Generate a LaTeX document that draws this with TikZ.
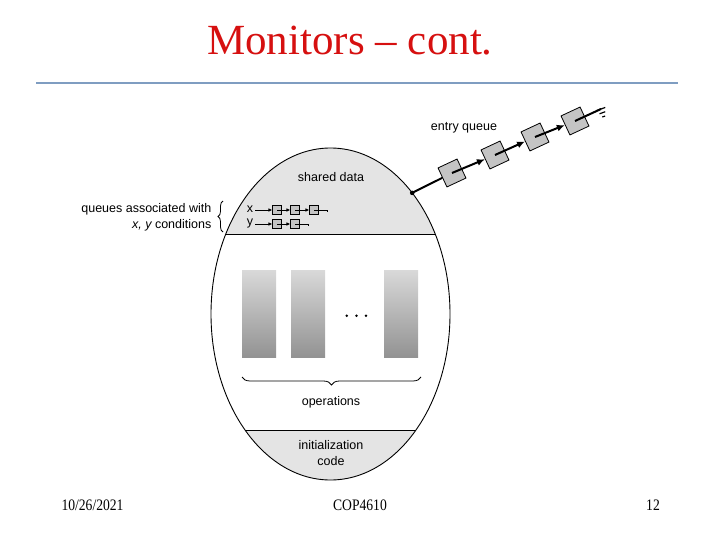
\documentclass[tikz,border=0pt]{standalone}
\usepackage{fontspec}
\setmainfont{Liberation Serif}
\newfontfamily\arial{Liberation Sans}
\usetikzlibrary{shapes.geometric,arrows.meta,decorations.pathreplacing}
\definecolor{titlered}{RGB}{214,16,16}
\definecolor{rulebl}{RGB}{127,157,193}
\definecolor{regiongray}{RGB}{228,228,228}
\definecolor{boxgray}{RGB}{196,196,196}
\tikzset{
  lbl/.style={font=\arial\fontsize{12.5}{15}\selectfont, inner sep=0pt},
  foot/.style={font=\fontsize{16}{18}\selectfont, inner sep=0pt, anchor=base, xscale=0.85},
  qbox/.style={draw, fill=boxgray, minimum size=8.5pt, inner sep=0pt, line width=0.6pt},
  ebox/.style={draw, fill=boxgray, minimum size=21pt, inner sep=0pt, rotate=25, line width=0.8pt},
  qarr/.style={line width=0.8pt, -{Latex[length=4pt,width=3.5pt]}},
  earr/.style={line width=2pt, -{Latex[length=8pt,width=7pt]}},
  opbox/.style={minimum width=34pt, minimum height=87pt, inner sep=0pt, top color=gray!30, bottom color=gray!85},
}
\begin{document}
\begin{tikzpicture}[x=1pt,y=-1pt]
\useasboundingbox (0,0) rectangle (720,540);
% title
\node[font=\fontsize{43}{50}\selectfont, text=titlered, anchor=base, inner sep=0pt] (title) at (350,55) {Monitors -- cont.};
\draw[rulebl, line width=2pt] (36,83) -- (678,83);
% monitor regions
\begin{scope}
  \clip (330.5,314) ellipse [x radius=119.5pt, y radius=166pt];
  \fill[regiongray] (200,140) rectangle (460,234);
  \fill[regiongray] (200,430) rectangle (460,490);
  \draw[line width=0.8pt] (200,234) -- (460,234);
  \draw[line width=0.8pt] (200,430) -- (460,430);
\end{scope}
\node[ellipse, draw, line width=0.9pt, minimum width=239pt, minimum height=332pt, inner sep=0pt, outer sep=0pt] (mon) at (330.5,314) {};
% texts inside
\node[lbl] (shared) at (331,177) {shared data};
\node[lbl] (ops) at (331,402) {operations};
\node[lbl, align=center, font=\arial\fontsize{12.5}{16}\selectfont] (init) at (331,453) {initialization\\code};
% operation boxes
\node[opbox] (op1) at (259,313.5) {};
\node[opbox] (op2) at (308,313.5) {};
\node[opbox] (op3) at (401,313.5) {};
\fill (346.7,315.7) circle (1.4pt) (356.5,315.7) circle (1.4pt) (366,315.7) circle (1.4pt);
\draw[line width=0.8pt, decorate, decoration={brace, amplitude=8pt}] (421,377) -- (242,377);
% condition queues
\node[lbl] (lx) at (250,209) {x};
\node[lbl] (ly) at (250,223) {y};
\node[qbox] (qx1) at (277,210) {};
\node[qbox] (qx2) at (295,210) {};
\node[qbox] (qx3) at (314,210) {};
\node[qbox] (qy1) at (277,224) {};
\node[qbox] (qy2) at (295,224) {};
\coordinate (tx) at (327,210);
\coordinate (ty) at (308,224);
\draw[qarr] (lx.east) ++(2,1) -- (qx1.west);
\draw[qarr] (ly.east) ++(2,1) -- (qy1.west);
\draw[qarr] (qx1.center) -- (qx2.west);
\draw[qarr] (qx2.center) -- (qx3.west);
\draw[qarr] (qy1.center) -- (qy2.west);
\draw[line width=0.8pt] (qx3.center) -- (tx) -- ++(0,2.5);
\draw[line width=0.8pt] (qy2.center) -- (ty) -- ++(0,2.5);
% left label
\node[lbl, anchor=base east] (q1) at (211.5,213) {queues associated with};
\node[lbl, anchor=base east] (q2) at (211.5,228.5) {\itshape x, y\upshape{} conditions};
\draw[line width=0.8pt, decorate, decoration={brace, amplitude=5pt}] (223,232) -- (223,201);
% entry queue
\node[lbl] (eq) at (464,128) {entry queue};
\coordinate (d) at (mon.56.6);
\node[ebox] (e1) at (452,173) {};
\node[ebox] (e2) at (495,155) {};
\node[ebox] (e3) at (535,137) {};
\node[ebox] (e4) at (575,121) {};
\draw[line width=2pt] (d) -- (e1);
\fill (d) circle (2.3pt);
\draw[earr] (e1.center) -- (e2);
\draw[earr] (e2.center) -- (e3);
\draw[earr] (e3.center) -- (e4);
\coordinate (g) at (601,109);
\draw[line width=2pt] (e4.center) -- (g);
\begin{scope}[shift={(g)}, rotate=-70, line width=1.2pt]
  \draw (0,-4.5) -- (0,4.5);
  \draw (4,-3) -- (4,3);
  \draw (8,-1.5) -- (8,1.5);
\end{scope}
% footer
\node[foot] (date) at (92.5,510) {10/26/2021};
\node[foot] (course) at (360,510) {COP4610};
\node[foot] (page) at (653,510) {12};
\end{tikzpicture}
\end{document}
